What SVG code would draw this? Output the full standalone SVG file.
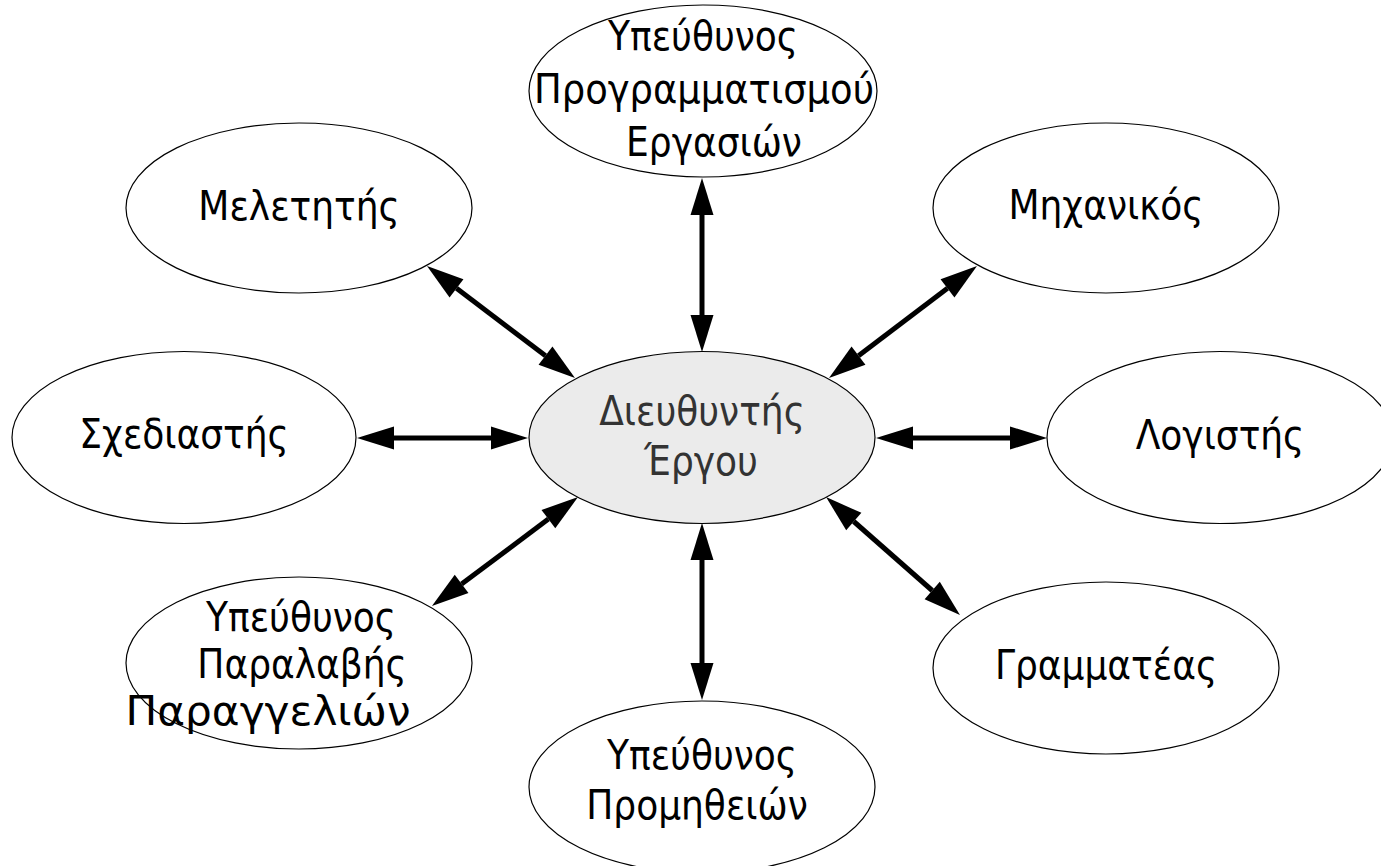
<svg xmlns="http://www.w3.org/2000/svg" width="1381" height="866" viewBox="0 0 1381 866">
<style>
.node ellipse{fill:#ffffff;stroke:#000;stroke-width:1.2}
#n-center ellipse{fill:#ebebeb}
text{font-family:"DejaVu Sans Condensed","DejaVu Sans",sans-serif;font-stretch:condensed;font-size:40px;fill:#000;text-anchor:middle}
#n-center text{fill:#333}
.conn line{stroke:#000;stroke-width:5;marker-start:url(#ah);marker-end:url(#ah)}
</style>
<defs>
<marker id="ah" markerUnits="userSpaceOnUse" markerWidth="38" markerHeight="24" refX="0" refY="11.5" orient="auto-start-reverse" overflow="visible">
<path d="M0,0 L37,11.5 L0,23 z" fill="#000"/>
</marker>
</defs>
<rect width="1381" height="866" fill="#fff"/>
<g id="connectors" class="conn">
<line x1="394" y1="438" x2="491" y2="438"/>
<line x1="913" y1="438" x2="1010" y2="438"/>
<line x1="702" y1="215" x2="702" y2="315"/>
<line x1="702" y1="560" x2="702" y2="663"/>
<line x1="456.5" y1="288.3" x2="545.5" y2="355.7"/>
<line x1="947.5" y1="288.3" x2="858.5" y2="355.7"/>
<line x1="461.6" y1="583.9" x2="548.4" y2="519.1"/>
<line x1="853.8" y1="521.5" x2="932.2" y2="590.5"/>
</g>
<g id="n-top" class="node">
<ellipse cx="703" cy="91" rx="174" ry="86"/>
<text x="703" y="50">Υπεύθυνος</text>
<text x="704" y="103" textLength="340" lengthAdjust="spacingAndGlyphs">Προγραμματισμού</text>
<text x="714" y="156">Εργασιών</text>
</g>
<g id="n-meletitis" class="node">
<ellipse cx="299" cy="208" rx="173" ry="85"/>
<text x="299" y="220">Μελετητής</text>
</g>
<g id="n-michanikos" class="node">
<ellipse cx="1106" cy="208" rx="173" ry="85"/>
<text x="1106" y="219">Μηχανικός</text>
</g>
<g id="n-schediastis" class="node">
<ellipse cx="184" cy="437.5" rx="172" ry="86"/>
<text x="184" y="448">Σχεδιαστής</text>
</g>
<g id="n-center" class="node">
<ellipse cx="702" cy="437.5" rx="173" ry="86"/>
<text x="702" y="425">Διευθυντής</text>
<text x="701" y="475">Έργου</text>
</g>
<g id="n-logistis" class="node">
<ellipse cx="1220" cy="437.5" rx="173" ry="86"/>
<text x="1220" y="449">Λογιστής</text>
</g>
<g id="n-paralavi" class="node">
<ellipse cx="299" cy="663" rx="173" ry="86"/>
<text x="301" y="631">Υπεύθυνος</text>
<text x="302" y="678">Παραλαβής</text>
<text x="268" y="725" textLength="285" lengthAdjust="spacingAndGlyphs">Παραγγελιών</text>
</g>
<g id="n-grammateas" class="node">
<ellipse cx="1106" cy="668" rx="173" ry="86"/>
<text x="1106" y="679">Γραμματέας</text>
</g>
<g id="n-promitheies" class="node">
<ellipse cx="702" cy="787" rx="173" ry="86"/>
<text x="702" y="769">Υπεύθυνος</text>
<text x="697" y="819">Προμηθειών</text>
</g>
</svg>
